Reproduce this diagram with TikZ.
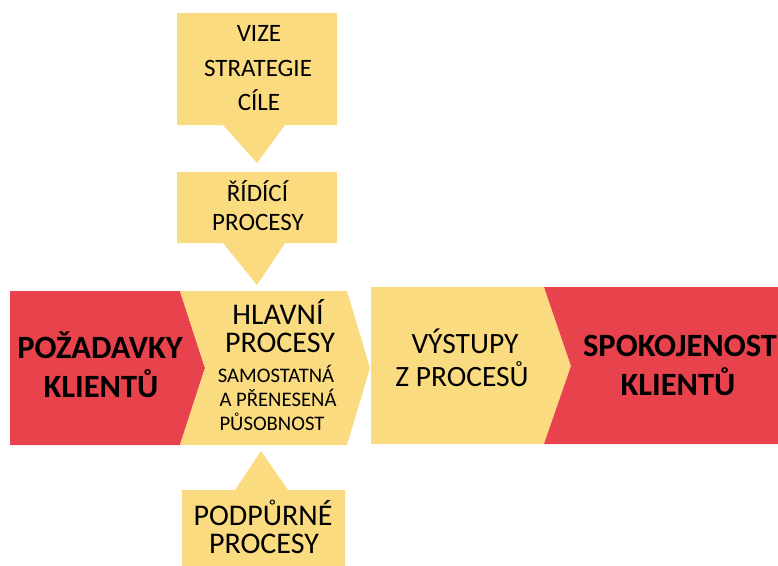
\documentclass[tikz,border=0pt]{standalone}
\usepackage{fontspec}
\setmainfont{Carlito}
\definecolor{boxyellow}{RGB}{250,219,128}
\definecolor{boxred}{RGB}{232,67,76}
\tikzset{
  yellowshape/.style={fill=boxyellow, draw=none},
  redshape/.style={fill=boxred, draw=none},
  lbl/.style={anchor=base, inner sep=0pt, text=black},
  f25/.style={lbl, font=\fontsize{25}{30}\selectfont},
  f30/.style={lbl, font=\fontsize{30}{34}\selectfont},
  fout/.style={lbl, font=\fontsize{29.5}{34}\selectfont},
  f20/.style={lbl, font=\fontsize{20.7}{24}\selectfont},
  f29/.style={lbl, font=\fontsize{30}{34}\selectfont},
  fbold/.style={lbl, font=\fontsize{32.5}{38}\selectfont\bfseries},
}
\begin{document}
\begin{tikzpicture}[x=1pt, y=-1pt]
  \useasboundingbox (0,0) rectangle (778,565);
  \fill[white] (0,0) rectangle (778,565);
  \clip (0,0) rectangle (778,565);

  % callout: vision, strategy, goals
  \fill[yellowshape] (177,13) -- (337,13) -- (337,125) -- (285,125) -- (257,163)
    -- (223,125) -- (177,125) -- cycle;
  % callout: management processes
  \fill[yellowshape] (177,172) -- (337,172) -- (337,243) -- (285,243) -- (257,285)
    -- (223,243) -- (177,243) -- cycle;

  % main band
  \fill[redshape] (10,291) -- (180,291) -- (205,368) -- (180,445) -- (10,445) -- cycle;
  \fill[yellowshape] (180,291) -- (347,291) -- (370,368) -- (347,445) -- (180,445)
    -- (205,368) -- cycle;
  \fill[yellowshape] (371,287) -- (544,287) -- (571,366) -- (544,444) -- (371,444) -- cycle;
  \fill[redshape] (544,287) -- (780,287) -- (780,444) -- (544,444) -- (571,366) -- cycle;

  % callout: support processes
  \fill[yellowshape] (261,451) -- (288,490) -- (345,490) -- (345,570) -- (182,570)
    -- (182,490) -- (235,490) -- cycle;

  % texts
  \node[f25] (vize1) at (259,41.7) {VIZE};
  \node[f25] (vize2) at (258,76) {STRATEGIE};
  \node[f25] (vize3) at (259,110) {CÍLE};

  \node[f25] (rid1) at (257.5,201.7) {ŘÍDÍCÍ};
  \node[f25] (rid2) at (258,230.7) {PROCESY};

  \node[fbold] (poz1) at (100,358) {POŽADAVKY};
  \node[fbold] (poz2) at (101,397.7) {KLIENTŮ};

  \node[f30] (hl1) at (278,324) {HLAVNÍ};
  \node[f30] (hl2) at (280,352.5) {PROCESY};
  \node[f20] (hl3) at (276,382) {SAMOSTATNÁ};
  \node[f20] (hl4) at (278,406) {A PŘENESENÁ};
  \node[f20] (hl5) at (272,430) {PŮSOBNOST};

  \node[fout] (vys1) at (465,353) {VÝSTUPY};
  \node[fout] (vys2) at (462,386.7) {Z PROCESŮ};

  \node[fbold] (spo1) at (680,356) {SPOKOJENOST};
  \node[fbold] (spo2) at (678,395.7) {KLIENTŮ};

  \node[f29] (pod1) at (263,525) {PODPŮRNÉ};
  \node[f29] (pod2) at (264,553) {PROCESY};
\end{tikzpicture}
\end{document}
